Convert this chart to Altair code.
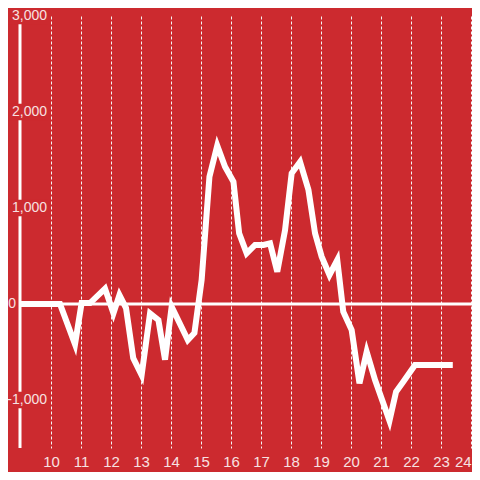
import altair as alt
import pandas as pd

# ---- data ----
hours = [9.0, 10.3, 10.8, 11.02, 11.3, 11.8, 12.08, 12.28, 12.5, 12.74, 13.02,
         13.3, 13.58, 13.8, 14.02, 14.56, 14.78, 15.02, 15.28, 15.54, 15.8,
         16.08, 16.27, 16.52, 16.8, 17.08, 17.3, 17.54, 17.8, 18.02, 18.3,
         18.58, 18.8, 19.02, 19.28, 19.54, 19.74, 20.02, 20.28, 20.52, 20.8,
         21.28, 21.5, 21.74, 22.13, 23.39]
values = [0, 0, -420, 10, 10, 160, -97, 94, -42, -563, -740,
          -97, -167, -580, -28, -375, -302, 250, 1326, 1650, 1430,
          1274, 736, 528, 615, 615, 632, 337, 770, 1361, 1480,
          1188, 736, 493, 302, 458, -80, -271, -826, -497, -792,
          -1215, -913, -809, -635, -635]

y_grid = [3000, 2500, 2000, 1500, 1000, 500, 0, -500, -1000, -1500]
y_label_values = [3000, 2000, 1000, 0, -1000]
y_label_text = ["3,000", "2,000", "1,000", "0", "-1,000"]
x_ticks = list(range(10, 25))

BG = "#cc2a2f"
LBL = "#f7e1e1"
FONT = "Liberation Sans"

df = pd.DataFrame({"hour": hours, "value": values})
labels_df = pd.DataFrame({"value": y_label_values, "label": y_label_text})

xscale = alt.Scale(domain=[9, 24.03], nice=False, zero=False)
yscale = alt.Scale(domain=[-1500, 3000], nice=False, zero=False)

x_enc = alt.X("hour:Q", scale=xscale, title=None,
              axis=alt.Axis(values=x_ticks, grid=True, gridColor="#f4f4f4",
                            gridDash=[3, 2], gridWidth=1, domain=False,
                            ticks=False, tickSize=0, labelColor=LBL,
                            labelFont=FONT, labelFontSize=15, labelPadding=6,
                            labelFlush=3, labelOverlap=False, title=None))
y_enc = alt.Y("value:Q", scale=yscale, title=None,
              axis=alt.Axis(values=y_grid, grid=True, gridColor="#d2d2d2",
                            gridWidth=1, labels=False, domain=False,
                            ticks=False, tickSize=0, title=None))

zero_rule = alt.Chart(pd.DataFrame({"value": [0]})).mark_rule(
    color="white", strokeWidth=3).encode(y=y_enc)

y_axis_line = alt.Chart(pd.DataFrame({"value": [-1500], "top": [3000]})).mark_rule(
    color="white", strokeWidth=3).encode(
    x=alt.value(-1),
    y=alt.Y("value:Q", scale=yscale, axis=None),
    y2="top:Q")

boxes = alt.Chart(labels_df).transform_filter("datum.value != 0").transform_calculate(
    lo="datum.value - 85", hi="datum.value + 85").mark_rect(color=BG).encode(
    x=alt.value(-13), x2=alt.value(27),
    y=alt.Y("lo:Q", scale=yscale, axis=None), y2="hi:Q")

ylabels = alt.Chart(labels_df).transform_filter("datum.value != 0").mark_text(
    align="right", baseline="middle", fontSize=14, font=FONT, color=LBL).encode(
    x=alt.value(26), y=alt.Y("value:Q", scale=yscale, axis=None), text="label:N")

zero_label = alt.Chart(labels_df).transform_filter("datum.value == 0").mark_text(
    align="right", baseline="middle", fontSize=14, font=FONT, color=LBL).encode(
    x=alt.value(-5), y=alt.Y("value:Q", scale=yscale, axis=None), text="label:N")

line = alt.Chart(df).mark_line(color="white", strokeWidth=6).encode(x=x_enc, y=y_enc)

chart = alt.layer(zero_rule, y_axis_line, boxes, ylabels, zero_label, line).properties(
    width=451, height=432,
    padding={"left": 13, "top": 8, "right": 0, "bottom": 24},
    autosize=alt.AutoSizeParams(type="none"),
    background=BG,
).configure_view(stroke=None)

chart.save("out.html", embed_options={"renderer": "svg", "actions": False})
